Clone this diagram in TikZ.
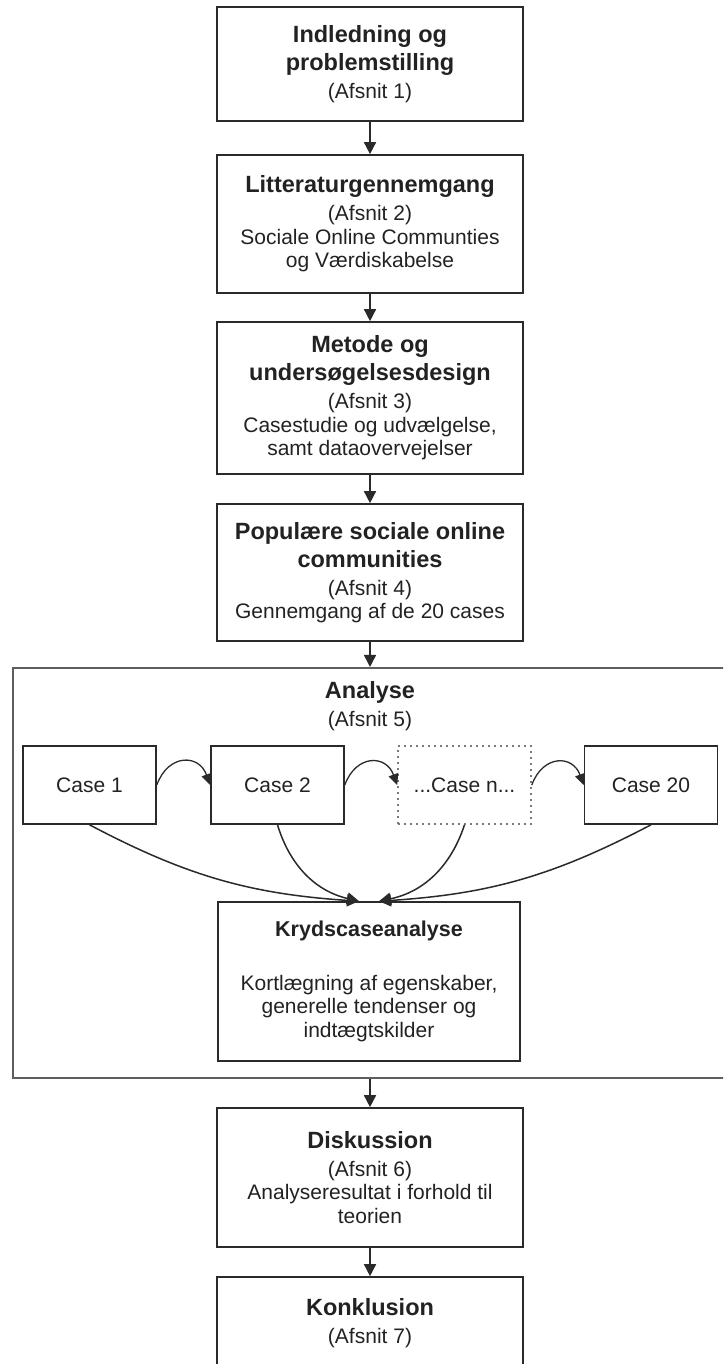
\documentclass[tikz,border=0pt]{standalone}
\usepackage{fontspec}
\setmainfont{Liberation Sans}
\usetikzlibrary{arrows.meta}
\definecolor{Ink}{HTML}{222222}
\definecolor{Rule}{HTML}{2A2A2A}
\definecolor{Frame}{HTML}{5E5E5E}
\definecolor{Dots}{HTML}{7A7A7A}
\newcommand\boxtitle[1]{{\fontsize{23.5}{23.5}\selectfont\bfseries #1}}

\begin{document}
\begin{tikzpicture}[x=1pt,y=1pt,
  box/.style={draw=Rule,line width=1.6pt,minimum width=306pt,inner sep=0pt,align=center,text=Ink,font=\fontsize{21}{23.5}\selectfont},
  casebox/.style={draw=Rule,line width=1.6pt,minimum width=133pt,minimum height=78pt,inner sep=0pt,text=Ink,font=\fontsize{21}{23.5}\selectfont},
  caseopen/.style={casebox,draw=Dots,dash pattern=on 1.6pt off 4.4pt},
  panel/.style={draw=Frame,line width=2pt,minimum width=727pt,minimum height=410pt,inner sep=0pt},
  flow/.style={-{Triangle[length=12pt,width=12pt]},draw=Rule,line width=1.5pt},
  hop/.style={-{Triangle[length=11pt,width=10pt]},draw=Rule,line width=1.3pt}]
\clip (0,0) rectangle (723,1364);
\node[box,minimum height=114pt] (b1) at (370,1300) {\boxtitle{Indledning og}\\[4.5pt]\boxtitle{problemstilling}\\[4.5pt](Afsnit 1)};
\node[box,minimum height=138pt] (b2) at (370,1140) {\boxtitle{Litteraturgennemgang}\\[4.5pt](Afsnit 2)\\Sociale Online Communties\\og Værdiskabelse};
\node[box,minimum height=152pt] (b3) at (370,966) {\boxtitle{Metode og}\\[4.5pt]\boxtitle{undersøgelsesdesign}\\[4.5pt](Afsnit 3)\\Casestudie og udvælgelse,\\samt dataovervejelser};
\node[box,minimum height=137pt] (b4) at (370,791.5) {\boxtitle{Populære sociale online}\\[4.5pt]\boxtitle{communities}\\[4.5pt](Afsnit 4)\\Gennemgang af de 20 cases};
\node[panel] (analyse) at (376.5,491) {};
\node[align=center,text=Ink,font=\fontsize{21}{23.5}\selectfont] (analysetitle) at (370,657.5) {\boxtitle{Analyse}\\[4.5pt](Afsnit 5)};
\node[casebox] (c1) at (89.5,579) {Case 1};
\node[casebox] (c2) at (277.5,579) {Case 2};
\node[caseopen] (cn) at (464.5,579) {...Case n...};
\node[casebox] (c20) at (651,579) {Case 20};
\node[box,minimum width=302pt,minimum height=159pt] (kryds) at (369,382.5) {{\fontsize{21.5}{23.5}\selectfont\bfseries Krydscaseanalyse}\\[30pt]Kortlægning af egenskaber,\\generelle tendenser og\\indtægtskilder};
\node[box,minimum height=139pt] (b6) at (370,186.5) {\boxtitle{Diskussion}\\[4.5pt](Afsnit 6)\\Analyseresultat i forhold til\\teorien};
\node[box,minimum height=92pt] (b7) at (370,41) {\boxtitle{Konklusion}\\[4.5pt](Afsnit 7)};
\draw[flow] (b1) -- (b2);
\draw[flow] (b2) -- (b3);
\draw[flow] (b3) -- (b4);
\draw[flow] (b4) -- (b4 |- analyse.north);
\draw[hop,bend left=70,looseness=1.6] (c1.east) to (c2.west);
\draw[hop,bend left=70,looseness=1.6] (c2.east) to (cn.west);
\draw[hop,bend left=70,looseness=1.6] (cn.east) to (c20.west);
\draw[flow,bend right=12] (c1.south) to ([xshift=-10pt]kryds.north);
\draw[flow,bend right=30] (c2.south) to ([xshift=-10pt]kryds.north);
\draw[flow,bend left=30] (cn.south) to ([xshift=10pt]kryds.north);
\draw[flow,bend left=12] (c20.south) to ([xshift=10pt]kryds.north);
\draw[flow] (b6 |- analyse.south) -- (b6);
\draw[flow] (b6) -- (b7);
\end{tikzpicture}
\end{document}
